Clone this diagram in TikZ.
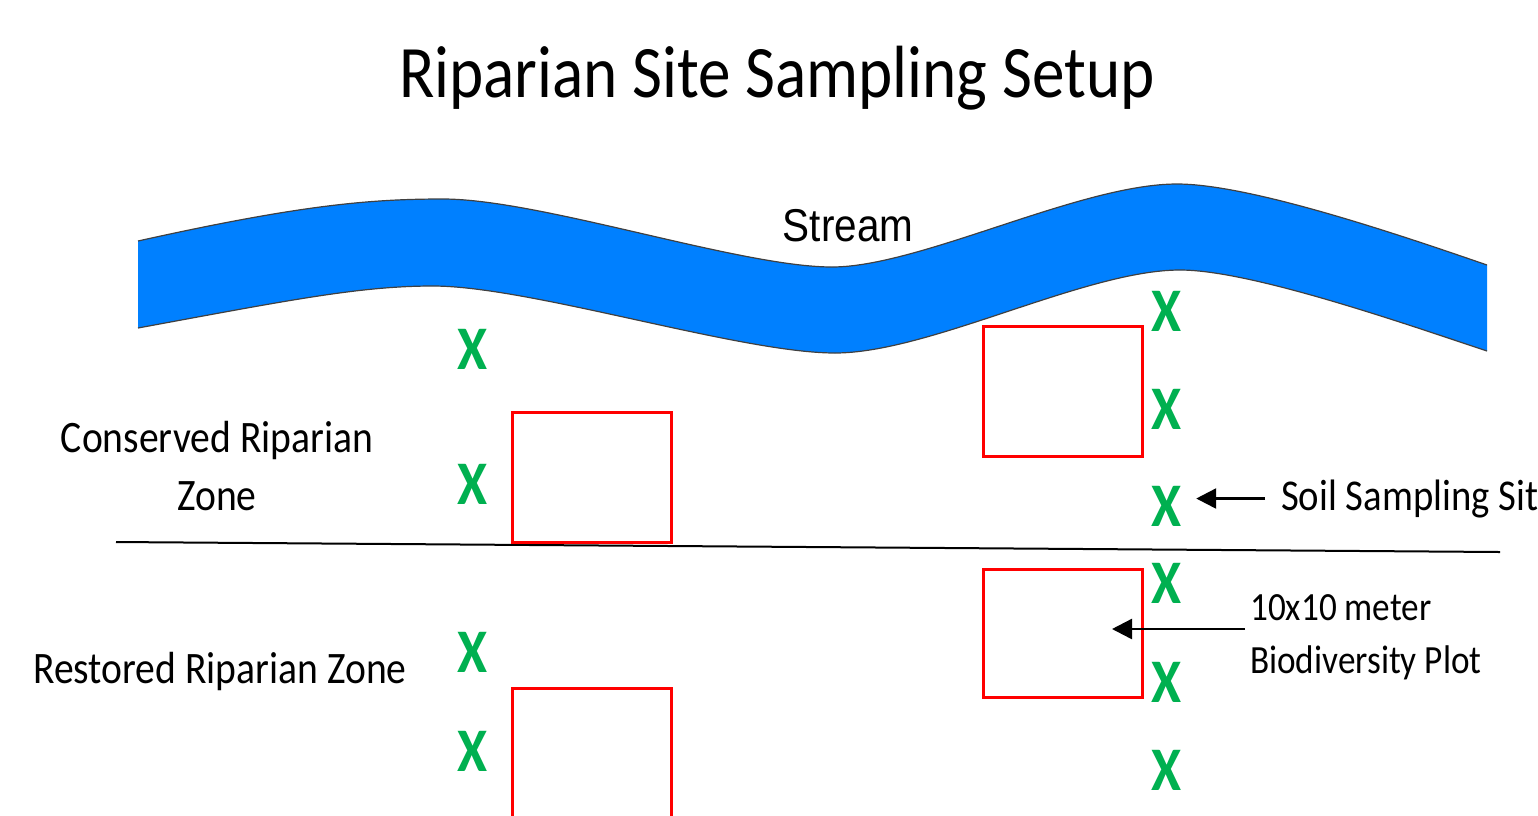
\documentclass[tikz,border=0pt]{standalone}
\usepackage{fontspec}
\setmainfont{Carlito}[FakeStretch=0.88]
\newfontfamily\streamfont{Liberation Sans}[FakeStretch=0.88]
\usepackage{xcolor}
\usepackage{tikz}
\usetikzlibrary{arrows.meta, positioning, calc}
\definecolor{streamblue}{RGB}{0,128,255}
\definecolor{sitegreen}{RGB}{0,176,80}
\definecolor{plotred}{RGB}{255,0,0}

\begin{document}
\begin{tikzpicture}[
      x=1pt, y=-1pt,
      site/.style={text=sitegreen, inner sep=0pt, font=\fontsize{62}{62}\selectfont\bfseries},
      plotbox/.style={draw=plotred, line width=3pt, inner sep=0pt,
                      minimum width=159pt, minimum height=130pt},
      zone/.style={inner sep=0pt, align=center, font=\fontsize{45}{58}\selectfont},
      note/.style={inner sep=0pt, align=left, font=\fontsize{40}{53}\selectfont},
      bank/.style={line width=1.2pt, color=black!75},
      arr/.style={-{Triangle[length=20pt, width=20pt]}, line width=2.5pt}
  ]
    \useasboundingbox (0,0) rectangle (1538,815);

    \node[inner sep=0pt, anchor=base, font=\fontsize{74}{74}\selectfont] (title) at (777,97)
          {Riparian Site Sampling Setup};

    % the stream
    \coordinate (upL) at (138,241);
    \coordinate (upR) at (1487,265);
    \coordinate (loL) at (138,328);
    \coordinate (loR) at (1487,351);
    \fill[streamblue] (upL) .. controls (300,205) and (370,199) .. (443,199)
          .. controls (540,199) and (740,267) .. (832,267)
          .. controls (920,267) and (1080,184) .. (1177,184)
          .. controls (1250,184) and (1400,235) .. (upR)
          -- (loR) .. controls (1400,322) and (1250,270) .. (1180,270)
          .. controls (1085,270) and (930,353) .. (835,353)
          .. controls (740,353) and (530,286) .. (433,286)
          .. controls (360,286) and (290,300) .. (loL) -- cycle;
    \draw[bank] (upL) .. controls (300,205) and (370,199) .. (443,199)
          .. controls (540,199) and (740,267) .. (832,267)
          .. controls (920,267) and (1080,184) .. (1177,184)
          .. controls (1250,184) and (1400,235) .. (upR);
    \draw[bank] (loR) .. controls (1400,322) and (1250,270) .. (1180,270)
          .. controls (1085,270) and (930,353) .. (835,353)
          .. controls (740,353) and (530,286) .. (433,286)
          .. controls (360,286) and (290,300) .. (loL);
    \node[inner sep=0pt, anchor=base, font=\fontsize{46}{46}\selectfont\streamfont] (stream) at (848,241) {Stream};

    % zone divider
    \coordinate (divL) at (116,542);
    \coordinate (divR) at (1500,552);
    \draw[line width=2pt] (divL) -- (divR);

    \node[zone, anchor=base] (conserved) at (217,510) {Conserved Riparian\\Zone};
    \node[zone, anchor=base west] (restored) at (33,683) {Restored Riparian Zone};

    % biodiversity plots
    \node[plotbox] (p1) at (591.5,477) {};
    \node[plotbox] (p2) at (1062.5,391.5) {};
    \node[plotbox, minimum height=128pt] (p3) at (1062.5,633) {};
    \node[plotbox, minimum height=136pt] (p4) at (591.5,756) {};

    % soil sampling sites
    \foreach \y [count=\i] in {349,484,652,751}
      \node[site] (lx\i) at (473,\y) {X};
    \foreach \y [count=\i] in {311,409,506,583,682,770}
      \node[site] (rx\i) at (1167,\y) {X};

    \node[inner sep=0pt, anchor=base west, font=\fontsize{44}{44}\selectfont] (soil) at (1281,510)
          {Soil Sampling Sit};
    \node[note, anchor=base west] (bio) at (1250,673) {10x10 meter\\Biodiversity Plot};

    \coordinate (bioTip) at (1112,629);
    \draw[arr, shorten <=16pt, shorten >=14pt] (soil.west) -- (soil.west -| rx3.east);
    \draw[arr, shorten <=5pt] (bio.west |- bioTip) -- (bioTip);
  \end{tikzpicture}
\end{document}
